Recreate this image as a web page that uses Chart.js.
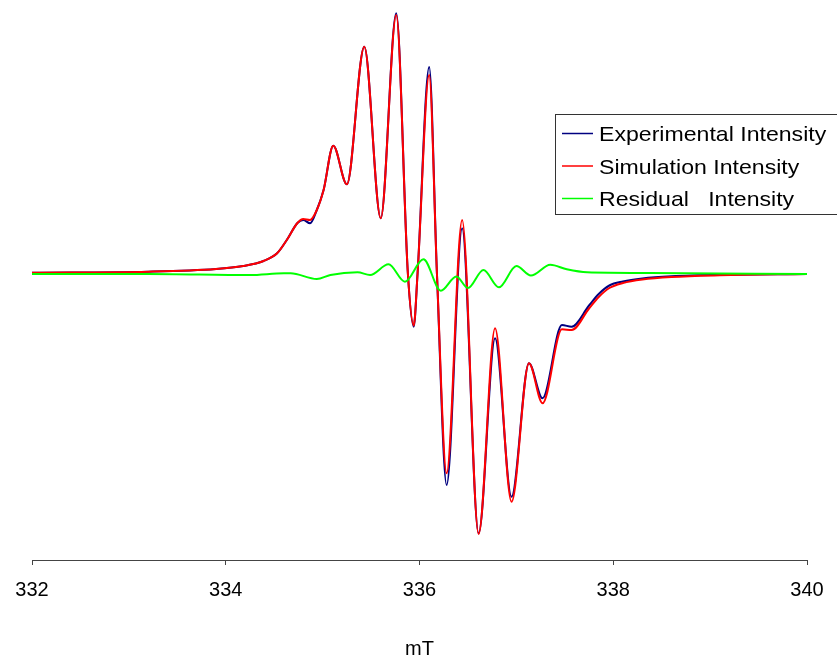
<!doctype html>
<html>
<head>
    <meta charset="UTF-8">
    <title>EPR spectrum</title>
    <script src="https://cdn.jsdelivr.net/npm/chart.js@4.4.0/dist/chart.umd.min.js"></script>
    <style>
        body { margin: 0; background: #fff; }
        canvas { display: block; }
    </style>
</head>
<body>
<canvas id="chart-area" width="837" height="659"></canvas>
<script>
    // field positions (mT) where the experimental / simulated curves were read
    var fieldPoints = [332.0, 333.2, 333.9, 334.18, 334.39, 334.53, 334.63, 334.74, 334.8, 334.87, 334.94, 335.01,
        335.11, 335.25, 335.43, 335.6, 335.76, 335.88, 335.94, 335.98, 336.1, 336.18, 336.28, 336.44, 336.61,
        336.78, 336.95, 337.13, 337.27, 337.47, 337.57, 337.75, 337.85, 337.96, 338.1, 338.3, 338.6, 339.1, 340.0];
    var expIntensity = [0.8, 1.8, 4.5, 7.5, 12.5, 20.2, 33.5, 50.5, 53.5, 50.2, 63.5, 83.5,
        127.8, 89.2, 226.8, 55.2, 260.2, 0, -53.2, 0, 206.5, 0, -211.5, 45.2, -259.8,
        -64.8, -223.2, -89.8, -124.8, -51.5, -53.2, -32, -20.5, -12, -8, -5, -2.8, -1.3, -0.5];
    var simIntensity = [0.8, 1.8, 4.5, 7.5, 12.5, 20.2, 33.5, 50.5, 54.5, 53.5, 63.5, 83.5,
        127.8, 89.2, 226.8, 55.2, 258.5, 0, -52, 0, 198.5, 0, -199.8, 53.5, -260.5,
        -54.8, -228.2, -89.8, -129.8, -55.8, -56.5, -35, -23.5, -14.5, -9.5, -6, -3.5, -1.8, -0.5];

    // residual has its own read points
    var fieldResidual = [332.0, 333.2, 334.25, 334.6, 334.67, 334.94, 335.08, 335.36, 335.49, 335.68, 335.85,
        336.04, 336.22, 336.38, 336.5, 336.66, 336.82, 337.0, 337.15, 337.35, 337.52, 337.73, 338.38, 340.0];
    var resIntensity = [-0.5, -0.5, -1.5, 0.2, 0.2, -5.5, -1.5, 1.2, -1.5, 9.2, -8.2,
        14.2, -17.2, -3, -14.5, 3.5, -13.8, 7.5, -2, 8.7, 4.2, 1.2, 0.5, -0.5];

    var xTicks = [332, 334, 336, 338, 340];
    var seriesNames = ['Experimental Intensity', 'Simulation Intensity', 'Residual   Intensity'];
    var seriesColors = ['#000080', '#ff0000', '#00ff00'];

    function toXY(xs, ys) {
        return xs.map(function (x, i) { return {x: x, y: ys[i]}; });
    }

    // legend box drawn inside the plot, like the original
    var boxLegend = {
        id: 'boxLegend',
        afterDraw: function (chart) {
            var ctx = chart.ctx;
            var lineY = [133.5, 166, 198.5];
            var textY = [141, 173.5, 206];
            ctx.save();
            ctx.fillStyle = '#fff';
            ctx.fillRect(555, 114, 290, 100);
            ctx.strokeStyle = '#333';
            ctx.lineWidth = 1;
            ctx.strokeRect(555.5, 114.5, 290, 100);
            ctx.font = '21px "Liberation Sans", Arial, sans-serif';
            ctx.textBaseline = 'alphabetic';
            ctx.textAlign = 'left';
            chart.data.datasets.forEach(function (ds, i) {
                ctx.strokeStyle = ds.borderColor;
                ctx.lineWidth = 1.5;
                ctx.beginPath();
                ctx.moveTo(562, lineY[i]);
                ctx.lineTo(593, lineY[i]);
                ctx.stroke();
                ctx.fillStyle = '#000';
                // text in the original is a little stretched sideways
                ctx.save();
                ctx.translate(599, textY[i]);
                ctx.scale(1.1, 1);
                ctx.fillText(ds.label, 0, 0);
                ctx.restore();
            });
            ctx.restore();
        }
    };

    Chart.defaults.font.family = '"Liberation Sans", Arial, sans-serif';
    Chart.defaults.color = '#000';

    var config = {
        type: 'line',
        data: {
            datasets: [
                {
                    label: seriesNames[0],
                    data: toXY(fieldPoints, expIntensity),
                    borderColor: seriesColors[0],
                    order: 2
                },
                {
                    label: seriesNames[1],
                    data: toXY(fieldPoints, simIntensity),
                    borderColor: seriesColors[1],
                    order: 1
                },
                {
                    label: seriesNames[2],
                    data: toXY(fieldResidual, resIntensity),
                    borderColor: seriesColors[2],
                    order: 0
                }
            ]
        },
        options: {
            responsive: false,
            animation: false,
            layout: {padding: {left: 32, right: 30, top: 0, bottom: 0}},
            elements: {
                point: {radius: 0},
                line: {borderWidth: 2, cubicInterpolationMode: 'monotone', fill: false}
            },
            plugins: {
                legend: {display: false},
                tooltip: {enabled: false}
            },
            scales: {
                x: {
                    type: 'linear',
                    min: 332,
                    max: 340,
                    afterBuildTicks: function (axis) {
                        axis.ticks = xTicks.map(function (v) { return {value: v}; });
                    },
                    ticks: {font: {size: 20}, padding: 13, color: '#000'},
                    grid: {drawOnChartArea: false, drawTicks: true, tickLength: 5, color: '#444'},
                    border: {display: true, color: '#444', width: 1},
                    title: {
                        display: true,
                        text: 'mT',
                        font: {size: 20, lineHeight: 1},
                        padding: {top: 24, bottom: 0}
                    }
                },
                y: {
                    display: false,
                    min: -286.5,
                    max: 273.5
                }
            }
        },
        plugins: [boxLegend]
    };

    var ctx = document.getElementById('chart-area').getContext('2d');
    window.myChart = new Chart(ctx, config);
</script>
</body>
</html>
